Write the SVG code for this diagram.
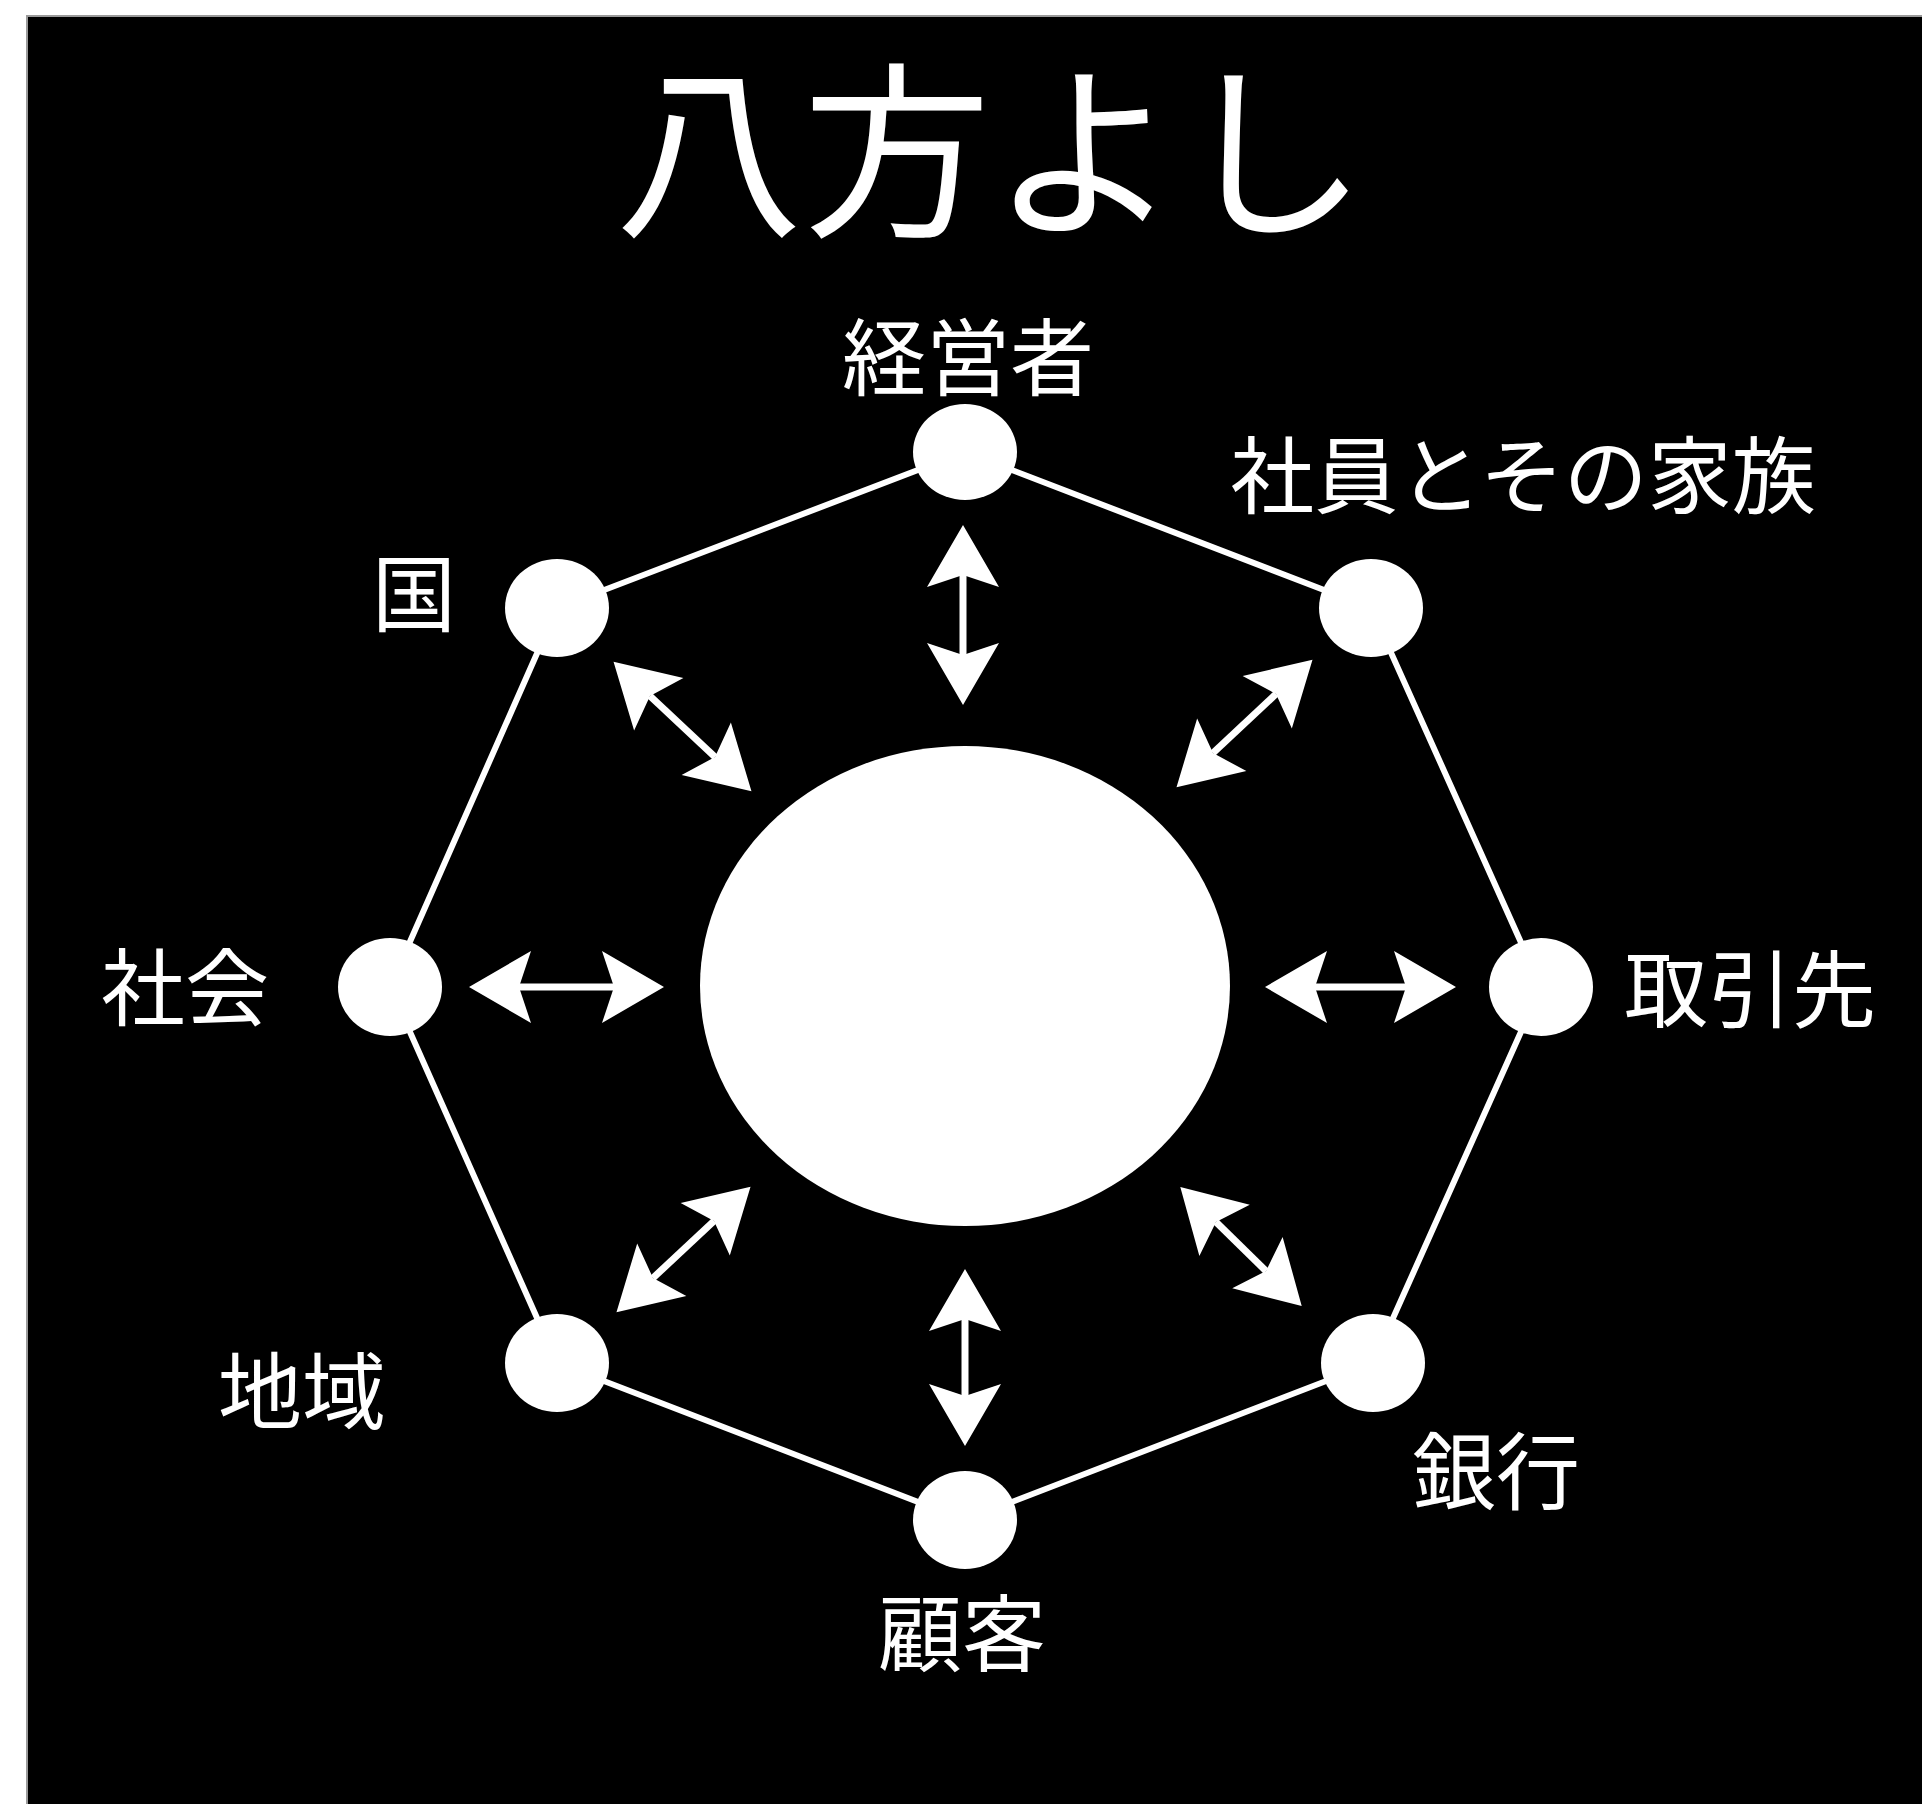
<svg xmlns="http://www.w3.org/2000/svg" width="1922" height="1804" viewBox="0 0 1922 1804">
  <style>
    .lbl { font-family: "Noto Sans CJK JP", "Noto Sans CJK SC", sans-serif; font-size: 84px; fill: #ffffff; text-anchor: middle; }
    .title { font-family: "Noto Sans CJK JP", "Noto Sans CJK SC", sans-serif; font-size: 188px; fill: #ffffff; text-anchor: middle; font-weight: 400; }
    .node { fill: #ffffff; }
    .edge { stroke: #ffffff; stroke-width: 6; fill: none; }
    .arr { stroke: #ffffff; stroke-width: 7; fill: none; marker-start: url(#head); marker-end: url(#head); }
  </style>
  <defs>
    <marker id="head" viewBox="-14 -38 66 76" markerWidth="66" markerHeight="76" refX="0" refY="0" markerUnits="userSpaceOnUse" orient="auto-start-reverse">
      <path d="M50,0 L-12,-36 L0,0 L-12,36 Z" fill="#ffffff"/>
    </marker>
  </defs>
  <rect x="0" y="0" width="1922" height="1804" fill="#ffffff"/>
  <rect x="27" y="16" width="1900" height="1795" fill="#000000" stroke="#9a9a9a" stroke-width="2"/>
  <text class="title" x="991" y="222">八方よし</text>

  <g id="connectors">
    <polyline class="edge" points="965,452 1371,608 1541,987 1373,1363 965,1520 557,1363 390,987 557,608 965,452"/>
    <line class="arr" x1="963" y1="575" x2="963" y2="655"/>
    <line class="arr" x1="965" y1="1319" x2="965" y2="1396"/>
    <line class="arr" x1="519" y1="987" x2="614" y2="987"/>
    <line class="arr" x1="1315" y1="987" x2="1406" y2="987"/>
    <line class="arr" x1="650" y1="696" x2="715" y2="757"/>
    <line class="arr" x1="1276" y1="694" x2="1213" y2="753"/>
    <line class="arr" x1="653" y1="1278" x2="714" y2="1221"/>
    <line class="arr" x1="1266" y1="1271" x2="1216" y2="1222"/>
  </g>

  <g id="center">
    <ellipse class="node" cx="965" cy="986" rx="265" ry="240"/>
  </g>
  <g id="keieisha">
    <ellipse class="node" cx="965" cy="452" rx="52" ry="48"/>
    <text class="lbl" x="968" y="389">経営者</text>
  </g>
  <g id="shain">
    <ellipse class="node" cx="1371" cy="608" rx="52" ry="49"/>
    <text class="lbl" x="1523" y="507">社員とその家族</text>
  </g>
  <g id="torihikisaki">
    <ellipse class="node" cx="1541" cy="987" rx="52" ry="49"/>
    <text class="lbl" x="1750" y="1021">取引先</text>
  </g>
  <g id="ginko">
    <ellipse class="node" cx="1373" cy="1363" rx="52" ry="49"/>
    <text class="lbl" x="1496" y="1503">銀行</text>
  </g>
  <g id="kokyaku">
    <ellipse class="node" cx="965" cy="1520" rx="52" ry="49"/>
    <text class="lbl" x="962" y="1665">顧客</text>
  </g>
  <g id="chiiki">
    <ellipse class="node" cx="557" cy="1363" rx="52" ry="49"/>
    <text class="lbl" x="302" y="1423">地域</text>
  </g>
  <g id="shakai">
    <ellipse class="node" cx="390" cy="987" rx="52" ry="49"/>
    <text class="lbl" x="185" y="1019">社会</text>
  </g>
  <g id="kuni">
    <ellipse class="node" cx="557" cy="608" rx="52" ry="49"/>
    <text class="lbl" x="414" y="625">国</text>
  </g>
</svg>
